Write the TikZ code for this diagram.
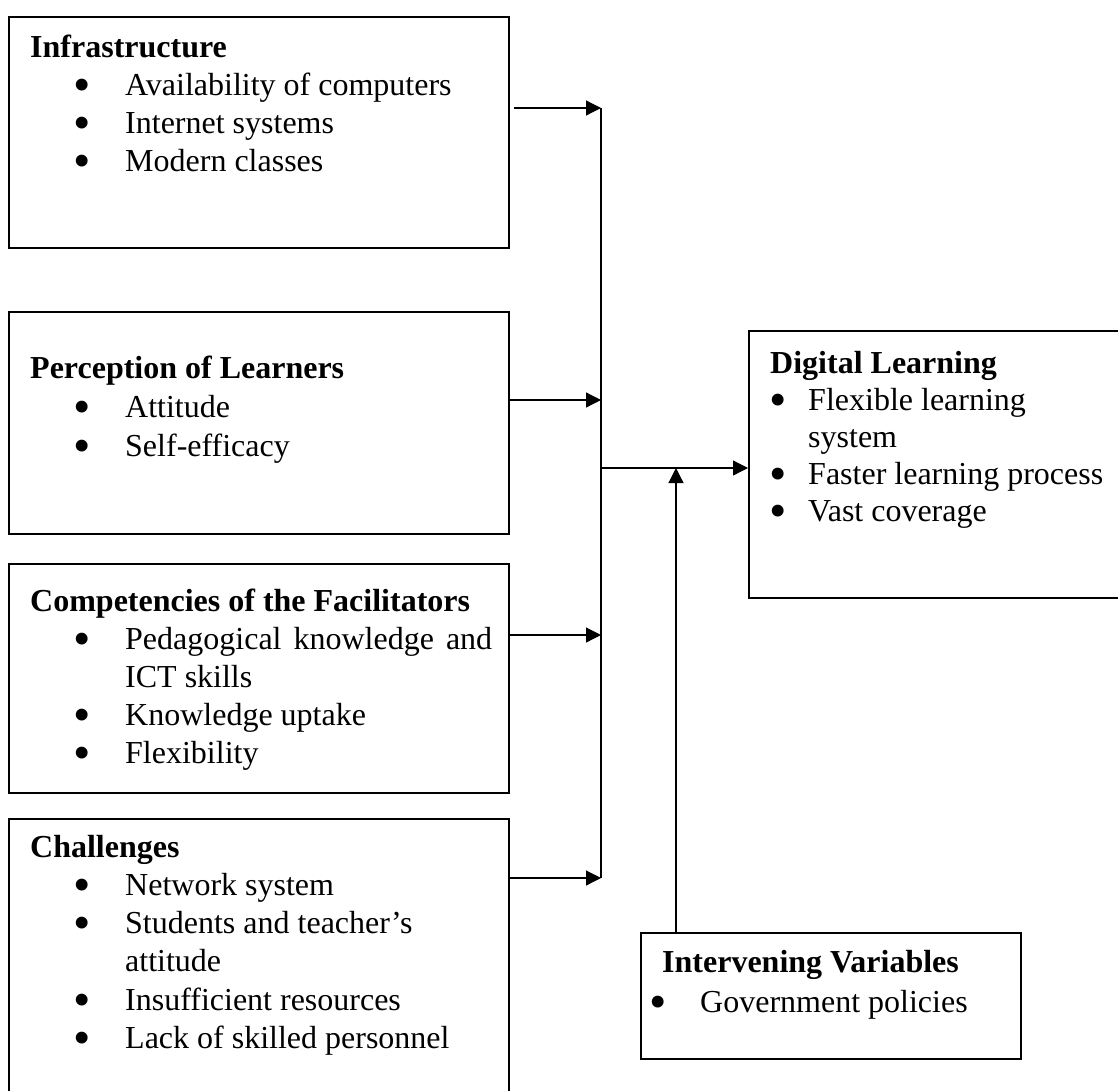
\documentclass[tikz,border=0pt]{standalone}
\usepackage{fontspec}
\setmainfont{Liberation Serif}
\usepackage{graphicx}
\usetikzlibrary{arrows.meta}
\newcommand\blt{\smash{\raisebox{-6pt}{\scalebox{1.55}{\textbullet}}}}
\newcommand\itm[3]{\hbox{\hspace*{#1}\makebox[0pt]{\blt}\hspace*{#2}#3}}
\newcommand\cnt[2]{\hbox{\hspace*{#1}#2}}
\newcommand\ttl[1]{\hbox{\bfseries #1}}
\newcommand\boxtext[2]{\vtop{\baselineskip=#1\lineskiplimit=-1000pt\lineskip=0pt #2}}
\tikzset{
  box/.style={draw, line width=1.8pt, anchor=north west, inner sep=0pt},
  txt/.style={anchor=base west, inner sep=0pt, font=\fontsize{32}{38}\selectfont},
  arr/.style={line width=1.2pt, -{Triangle[length=15pt,width=15pt]}},
  bus/.style={line width=1.2pt}
}
\begin{document}
\begin{tikzpicture}[x=1pt,y=-1pt]
\clip (0,0) rectangle (1118,1090);
\fill[white] (0,0) rectangle (1118,1090);
% boxes
\node[box, minimum width=500pt, minimum height=231pt] (infra) at (8,16) {};
\node[box, minimum width=500pt, minimum height=222pt] (perc) at (8,311) {};
\node[box, minimum width=500pt, minimum height=229pt] (comp) at (8,563) {};
\node[box, minimum width=500pt, minimum height=300pt] (chal) at (8,818) {};
\node[box, minimum width=420pt, minimum height=267pt] (dl) at (748,330) {};
\node[box, minimum width=380pt, minimum height=126pt] (iv) at (640,932) {};
% texts
\node[txt] (infraT) at (30,57) {\boxtext{38.3pt}{%
  \ttl{Infrastructure}
  \itm{52pt}{43pt}{Availability of computers}
  \itm{52pt}{43pt}{Internet systems}
  \itm{52pt}{43pt}{Modern classes}}};
\node[txt] (percT) at (30,378) {\boxtext{39pt}{%
  \ttl{Perception of Learners}
  \itm{52pt}{43pt}{Attitude}
  \itm{52pt}{43pt}{Self-efficacy}}};
\node[txt] (compT) at (30,611) {\boxtext{38pt}{%
  \ttl{Competencies of the Facilitators}
  \itm{52pt}{43pt}{\hbox to 367pt{Pedagogical\hfil knowledge\hfil and}}
  \cnt{95pt}{ICT skills}
  \itm{52pt}{43pt}{Knowledge uptake}
  \itm{52pt}{43pt}{Flexibility}}};
\node[txt] (chalT) at (30,857) {\boxtext{38.3pt}{%
  \ttl{Challenges}
  \itm{52pt}{43pt}{Network system}
  \itm{52pt}{43pt}{Students and teacher’s}
  \cnt{95pt}{attitude}
  \itm{52pt}{43pt}{Insufficient resources}
  \itm{52pt}{43pt}{Lack of skilled personnel}}};
\node[txt] (dlT) at (770,373) {\boxtext{37pt}{%
  \ttl{Digital Learning}
  \itm{8pt}{30pt}{Flexible learning}
  \cnt{38pt}{system}
  \itm{8pt}{30pt}{Faster learning process}
  \itm{8pt}{30pt}{Vast coverage}}};
\node[txt] (ivT) at (662,972) {\boxtext{40pt}{%
  \ttl{Intervening Variables}
  \itm{-4pt}{42pt}{Government policies}}};
% junctions
\coordinate (j1) at (601,108);
\coordinate (j2) at (601,400);
\coordinate (j3) at (601,635);
\coordinate (j4) at (601,878);
\coordinate (jo) at (601,468);
\coordinate (ji) at (676,468);
% connectors
\draw[arr] ([xshift=4pt]infra.east |- j1) -- (j1);
\draw[arr] (perc.east |- j2) -- (j2);
\draw[arr] (comp.east |- j3) -- (j3);
\draw[arr] (chal.east |- j4) -- (j4);
\draw[bus] (j1) -- (j4);
\draw[arr] (jo) -- (dl.west |- jo);
\draw[arr] (iv.north -| ji) -- (ji);
\end{tikzpicture}
\end{document}
